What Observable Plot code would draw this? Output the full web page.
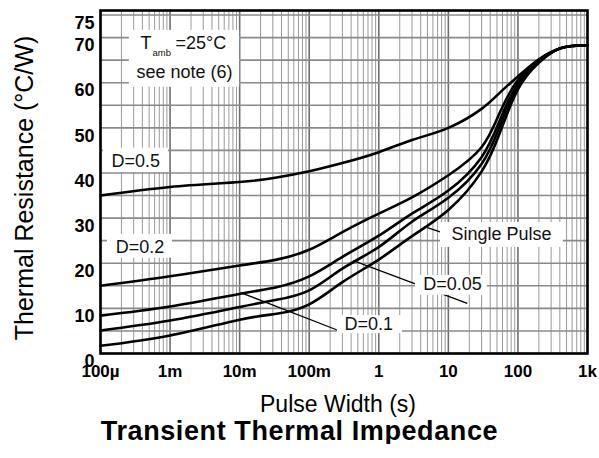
<!DOCTYPE html>
<html>
<head>
<meta charset="utf-8">
<script src="https://cdn.jsdelivr.net/npm/d3@7"></script>
<script src="https://cdn.jsdelivr.net/npm/@observablehq/plot@0.6"></script>
<style>
  body { margin: 0; background: white; }
  #chart { width: 599px; }
  #title { width: 599px; text-align: center; font: bold 27px "Liberation Sans", Arial, sans-serif; letter-spacing: 0.6px; line-height: 26px; }
</style>
</head>
<body>
<div id="chart"></div>
<div id="title">Transient Thermal Impedance</div>
<script>
// Pulse width (s)
const pulseWidth = [1e-4, 1e-3, 1e-2, 0.034, 0.1, 0.3, 1, 3, 10, 30, 55, 100, 200, 400, 700, 1000];
// Thermal resistance (°C/W) per series
const d05    = [35.0, 36.9, 38.0, 39.0, 40.4, 42.2, 44.6, 47.3, 50.0, 54.2, 57.8, 61.4, 65.2, 67.6, 68.2, 68.3];
const d02    = [15.0, 17.1, 19.5, 20.8, 23.0, 26.9, 31.0, 34.6, 39.5, 45.7, 53.4, 60.6, 65.0, 67.6, 68.2, 68.3];
const d01    = [ 8.4, 10.4, 13.2, 14.7, 17.1, 21.4, 26.1, 31.0, 36.1, 43.5, 51.7, 59.8, 64.8, 67.6, 68.2, 68.3];
const d005   = [ 5.1,  7.3, 10.3, 11.9, 14.0, 18.8, 23.6, 29.2, 34.5, 42.0, 50.4, 59.2, 64.6, 67.6, 68.2, 68.3];
const single = [ 1.7,  4.0,  7.5,  8.8, 10.9, 15.8, 20.8, 26.0, 31.8, 40.3, 48.9, 58.5, 64.4, 67.6, 68.2, 68.3];
const seriesNames = ["D=0.5", "D=0.2", "D=0.1", "D=0.05", "Single Pulse"];
const seriesValues = [d05, d02, d01, d005, single];

// Axis ticks
const xTickValues = [1e-4, 1e-3, 1e-2, 1e-1, 1, 10, 100, 1000];
const xTickLabels = ["100µ", "1m", "10m", "100m", "1", "10", "100", "1k"];
const yTickValues = [0, 10, 20, 30, 40, 50, 60, 70, 75];
const yGridValues = d3.range(0, 80, 5);
const decades = [1e-4, 1e-3, 1e-2, 1e-1, 1, 10, 100];
const minorMultipliers = [2, 3, 4, 5, 6, 7, 8, 9];

// Annotation labels (data coordinates)
const labelText = ["D=0.5", "D=0.2", "D=0.1", "D=0.05", "Single Pulse"];
const labelT = [3.2e-4, 3.7e-4, 0.72, 11.5, 58];
const labelV = [42.6, 23.6, 6.4, 15.3, 26.4];
const boxT1 = [1.1e-4, 1.26e-4, 0.254, 3.36, 7.7];
const boxT2 = [9.5e-4, 1.08e-3, 2.18, 36.3, 449];
const boxV1 = [40.1, 21.1, 4.4, 12.9, 23.5];
const boxV2 = [45.5, 26.4, 8.4, 17.3, 29.0];
// Leader lines
const leaderT1 = [0.0103, 0.43, 4.99];
const leaderV1 = [13.5, 20.6, 27.9];
const leaderT2 = [0.263, 18.7, 8.2];
const leaderV2 = [5.1, 11.1, 26.8];
// Note box
const noteT1 = 2.6e-4, noteT2 = 1.0e-2, noteV1 = 59.0, noteV2 = 71.6;
const noteT = 3.76e-4;

const curves = seriesNames.flatMap((name, i) =>
  pulseWidth.map((t, j) => ({series: name, t, v: seriesValues[i][j]})));
const minorTicks = decades.flatMap(d => minorMultipliers.map(m => d * m));
const labels = labelText.map((s, i) => ({s, t: labelT[i], v: labelV[i]}));
const boxes = boxT1.map((t1, i) => ({t1, t2: boxT2[i], v1: boxV1[i], v2: boxV2[i]}));
const leaders = leaderT1.map((t1, i) => ({t1, v1: leaderV1[i], t2: leaderT2[i], v2: leaderV2[i]}));
const xTicks = xTickValues.map((t, i) => ({t, s: xTickLabels[i]}));

const font = "Liberation Sans, Arial, sans-serif";

const chart = Plot.plot({
  width: 599,
  height: 418,
  marginLeft: 100,
  marginRight: 12,
  marginTop: 10,
  marginBottom: 65,
  x: {type: "log", domain: [1e-4, 1e3], axis: null},
  y: {domain: [0, 76], axis: null},
  style: {fontFamily: font, background: "white"},
  marks: [
    Plot.ruleX(minorTicks, {x: d => d, stroke: "#999", strokeWidth: 1}),
    Plot.ruleX(decades.concat([1000]), {x: d => d, stroke: "#6e6e6e", strokeWidth: 1.6}),
    Plot.ruleY(yGridValues, {y: d => d, stroke: "#8a8a8a", strokeWidth: 1.6}),
    Plot.link(leaders, {x1: "t1", y1: "v1", x2: "t2", y2: "v2", stroke: "black", strokeWidth: 1.3}),
    Plot.rect(boxes, {x1: "t1", x2: "t2", y1: "v1", y2: "v2", fill: "white"}),
    Plot.rect([0], {x1: () => noteT1, x2: () => noteT2, y1: () => noteV1, y2: () => noteV2, fill: "white"}),
    Plot.line(curves, {x: "t", y: "v", z: "series", stroke: "black", strokeWidth: 2.6, curve: "natural"}),
    Plot.text(labels, {x: "t", y: "v", text: "s", fontSize: 18, fill: "#111"}),
    Plot.text(["T"], {x: () => noteT, y: () => 68.7, textAnchor: "start", fontSize: 18, fill: "#111"}),
    Plot.text(["amb"], {x: () => noteT, y: () => 66.6, textAnchor: "start", dx: 12, fontSize: 9.5, fill: "#111"}),
    Plot.text(["=25°C"], {x: () => noteT, y: () => 68.7, textAnchor: "start", dx: 35, fontSize: 18, fill: "#111"}),
    Plot.text(["see note (6)"], {x: () => 1.61e-3, y: () => 62.3, fontSize: 18, fill: "#111"}),
    Plot.frame({stroke: "black", strokeWidth: 2.6}),
    Plot.text(xTicks, {x: "t", text: "s", frameAnchor: "bottom", lineAnchor: "middle", dy: 18, fontSize: 17, fontWeight: "bold", letterSpacing: "-0.3px"}),
    Plot.text(yTickValues, {y: d => d, text: d => String(d), frameAnchor: "left", textAnchor: "end", lineAnchor: "middle", dx: -6, dy: 8, fontSize: 18, fontWeight: "bold", letterSpacing: "-0.3px"}),
    Plot.text(["Thermal Resistance (°C/W)"], {frameAnchor: "left", textAnchor: "middle", lineAnchor: "middle", dx: -76, dy: 6, rotate: -90, fontSize: 25}),
    Plot.text(["Pulse Width (s)"], {frameAnchor: "bottom", textAnchor: "middle", lineAnchor: "middle", dy: 51, dx: -6, fontSize: 23, letterSpacing: "0.6px"})
  ]
});
document.getElementById("chart").appendChild(chart);
</script>
</body>
</html>
